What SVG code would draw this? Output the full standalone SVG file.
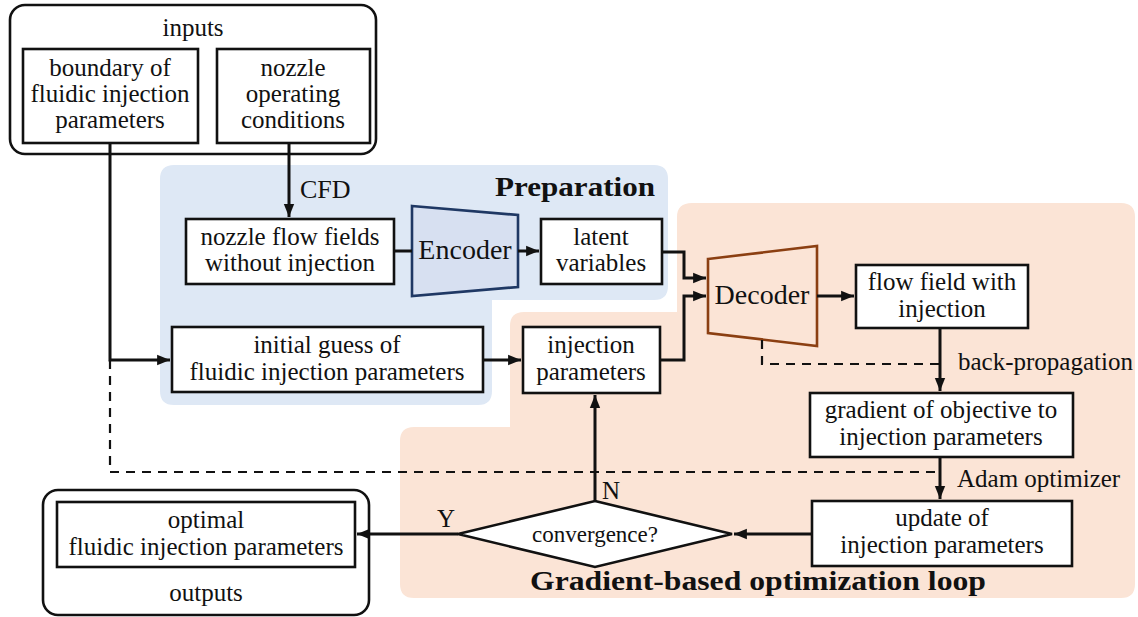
<svg xmlns="http://www.w3.org/2000/svg" width="1138" height="617" viewBox="0 0 1138 617">
<defs>
<style>
text{font-family:"Liberation Serif","Times New Roman",serif;font-size:25px;fill:#111;text-anchor:middle}
.box{fill:#fff;stroke:#111;stroke-width:2.6}
.outer{fill:#fff;stroke:#111;stroke-width:2.6}
.ln{fill:none;stroke:#111;stroke-width:3}
.dash{fill:none;stroke:#111;stroke-width:2.2;stroke-dasharray:9 7}
.big{font-size:28px}
.bold{font-weight:bold;font-size:27px}
.lab{text-anchor:start}
</style>
<marker id="arr" viewBox="0 0 10 10" refX="10" refY="5" markerWidth="4.3" markerHeight="4.3" orient="auto" markerUnits="strokeWidth">
<path d="M0,1 L10,5 L0,9 Z" fill="#111"/>
</marker>
</defs>
<rect width="1138" height="617" fill="#fff"/>
<g id="region-preparation">
<path d="M174,165 H654 Q668,165 668,179 V286 Q668,300 654,300 H492 V391 Q492,405 478,405 H174 Q160,405 160,391 V179 Q160,165 174,165 Z" fill="#dee8f5"/>
<text class="bold" x="655" y="196" style="text-anchor:end" textLength="160" lengthAdjust="spacingAndGlyphs">Preparation</text>
</g>
<g id="region-loop">
<path d="M692,203 H1121 Q1135,203 1135,217 V584 Q1135,598 1121,598 H414 Q400,598 400,584 V441 Q400,427 414,427 H510 V326 Q510,312 524,312 H677 V217 Q677,203 692,203 Z" fill="#fbe4d6"/>
<text class="bold" x="758" y="590" textLength="456" lengthAdjust="spacingAndGlyphs">Gradient-based optimization loop</text>
</g>
<g id="inputs">
<rect class="outer" x="10" y="5" width="366" height="149" rx="15"/>
<text x="193" y="36">inputs</text>
</g>
<g id="boundary">
<rect class="box" x="23" y="49" width="175" height="94"/>
<text x="110" y="76">boundary of</text>
<text x="110" y="102">fluidic injection</text>
<text x="110" y="128">parameters</text>
</g>
<g id="operating">
<rect class="box" x="217" y="49" width="153" height="94"/>
<text x="293" y="76">nozzle</text>
<text x="293" y="102">operating</text>
<text x="293" y="128">conditions</text>
</g>
<g id="flowfields">
<rect class="box" x="186" y="219" width="208" height="65"/>
<text x="290" y="245">nozzle flow fields</text>
<text x="290" y="271">without injection</text>
</g>
<g id="encoder">
<path d="M412,206 L518,215 L518,287 L412,296 Z" fill="#d7e0f1" stroke="#1f3864" stroke-width="2.6"/>
<text class="big" x="465" y="259">Encoder</text>
</g>
<g id="latent">
<rect class="box" x="541" y="219" width="121" height="65"/>
<text x="601" y="245">latent</text>
<text x="601" y="271">variables</text>
</g>
<g id="initial">
<rect class="box" x="172" y="327" width="311" height="65"/>
<text x="327" y="353">initial guess of</text>
<text x="327" y="380">fluidic injection parameters</text>
</g>
<g id="injparams">
<rect class="box" x="523" y="327" width="137" height="66"/>
<text x="591" y="353">injection</text>
<text x="591" y="380">parameters</text>
</g>
<g id="decoder">
<path d="M708,259 L817,246 L817,346 L708,333 Z" fill="none" stroke="#8b3f12" stroke-width="2.6"/>
<text class="big" x="762" y="304">Decoder</text>
</g>
<g id="flowinj">
<rect class="box" x="856" y="265" width="172" height="63"/>
<text x="942" y="290">flow field with</text>
<text x="942" y="317">injection</text>
</g>
<g id="gradient">
<rect class="box" x="810" y="393" width="263" height="64"/>
<text x="941" y="418">gradient of objective to</text>
<text x="941" y="445">injection parameters</text>
</g>
<g id="update">
<rect class="box" x="812" y="501" width="260" height="65"/>
<text x="942" y="526">update of</text>
<text x="942" y="553">injection parameters</text>
</g>
<g id="convergence">
<path d="M595,501 L732,534 L595,567 L458,534 Z" fill="#fff" stroke="#111" stroke-width="2.6"/>
<text x="595" y="542" style="font-size:23px">convergence?</text>
</g>
<g id="outputs">
<rect class="outer" x="43" y="490" width="326" height="125" rx="15"/>
<text x="206" y="601">outputs</text>
</g>
<g id="optimal">
<rect class="box" x="57" y="502" width="298" height="65"/>
<text x="206" y="528">optimal</text>
<text x="206" y="555">fluidic injection parameters</text>
</g>
<g id="connectors">
<path class="ln" d="M110,143 V360 H170" marker-end="url(#arr)"/>
<path class="dash" d="M110,360 V472 H940"/>
<path class="ln" d="M289,143 V217" marker-end="url(#arr)"/>
<path class="ln" d="M394,251 H412"/>
<path class="ln" d="M518,251 H539" marker-end="url(#arr)"/>
<path class="ln" d="M662,252 H684 V278 H706" marker-end="url(#arr)"/>
<path class="ln" d="M660,360 H684 V296 H706" marker-end="url(#arr)"/>
<path class="ln" d="M483,360 H521" marker-end="url(#arr)"/>
<path class="ln" d="M817,296 H854" marker-end="url(#arr)"/>
<path class="ln" d="M940,328 V391" marker-end="url(#arr)"/>
<path class="dash" d="M762,340 V364 H940"/>
<path class="ln" d="M940,457 V499" marker-end="url(#arr)"/>
<path class="ln" d="M812,534 H734" marker-end="url(#arr)"/>
<path class="ln" d="M595,501 V395" marker-end="url(#arr)"/>
<path class="ln" d="M458,534 H357" marker-end="url(#arr)"/>
<text x="300" y="198" class="lab" style="font-size:26px">CFD</text>
<text x="958" y="370" class="lab">back-propagation</text>
<text x="957" y="487" class="lab">Adam optimizer</text>
<text x="602" y="499" class="lab">N</text>
<text x="446" y="527">Y</text>
</g>
</svg>
